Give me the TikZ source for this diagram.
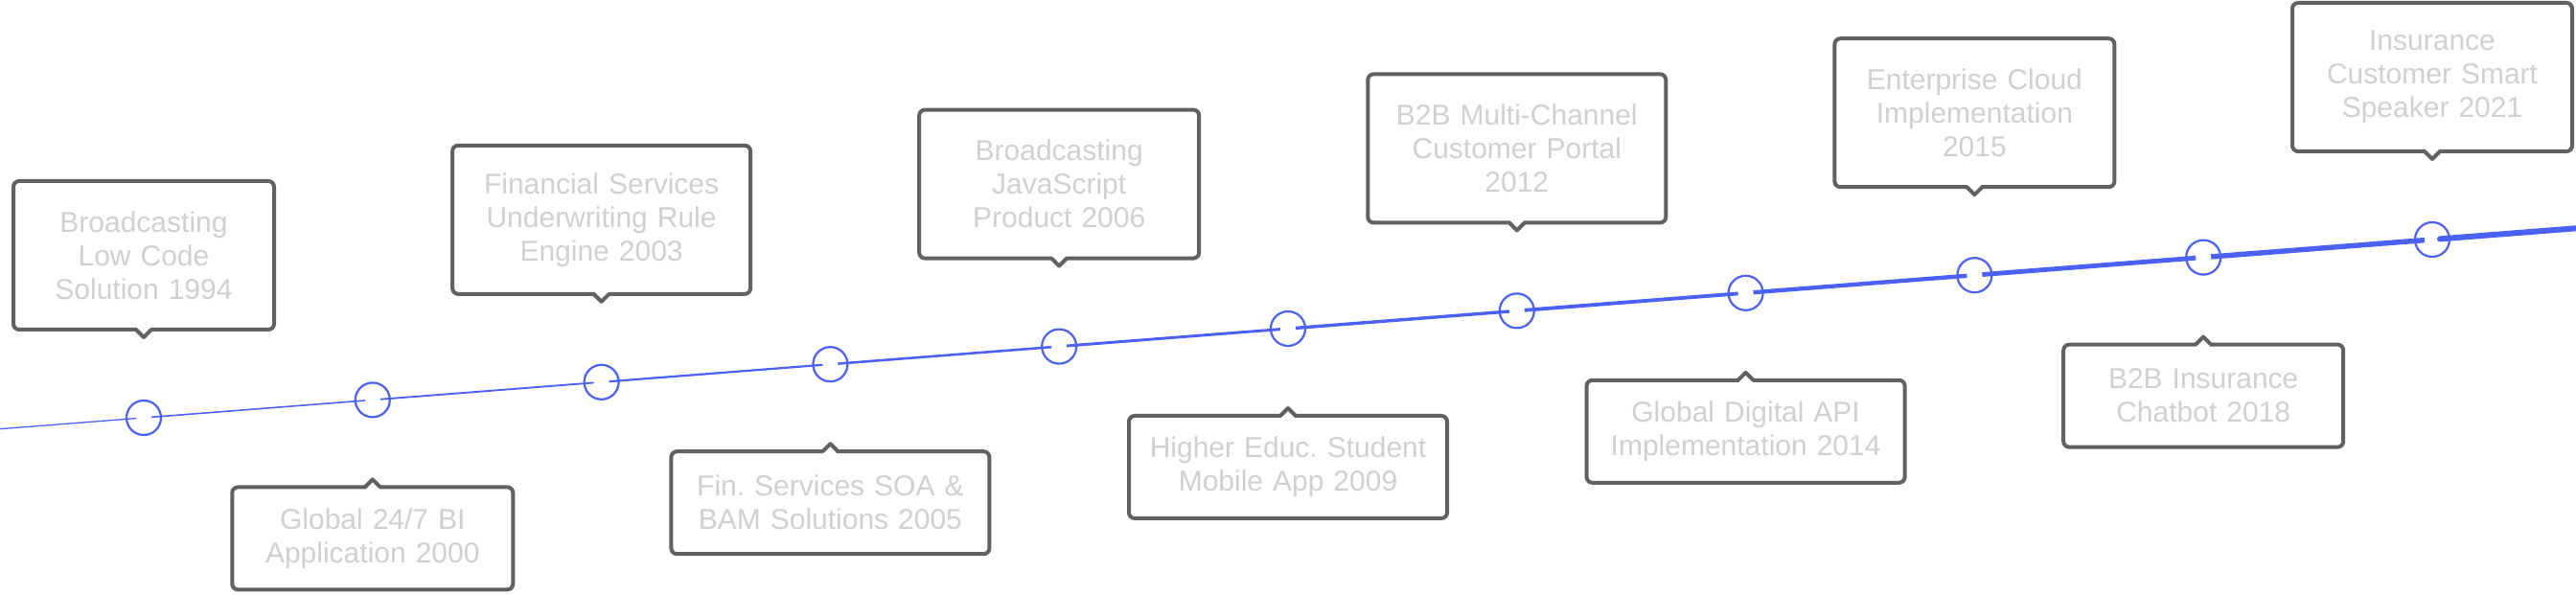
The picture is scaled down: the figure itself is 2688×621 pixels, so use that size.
\documentclass[tikz,border=0pt]{standalone}
\usepackage{fontspec}
\setmainfont{Liberation Sans}
\usetikzlibrary{positioning, calc}

\definecolor{lineblue}{HTML}{4A61F4}
\definecolor{boxgray}{HTML}{616161}
\definecolor{labelgray}{HTML}{D0D0D0}
\frenchspacing

\begin{document}
\begin{tikzpicture}[x=1pt, y=1pt, line join=round,
  dot/.style={circle, draw=lineblue, line width=2.2pt, minimum size=36pt, inner sep=0pt, outer sep=0pt},
  card/.style={draw=boxgray, line width=4pt, rounded corners=6pt, text=labelgray, align=center,
    inner xsep=10pt, inner ysep=0pt, outer sep=0pt, font=\fontsize{30}{35}\selectfont},
  upcard/.style={card, minimum height=155pt, above=74pt of #1},
  downcard/.style={card, minimum height=107pt, below=73pt of #1},
  notch/.style={draw=boxgray, line width=4pt},
  seg/.style={draw=lineblue}]
\useasboundingbox (0,0) rectangle (2688,621);

% timeline dots
\foreach \i in {1,...,11}
  \node[dot] (d\i) at ({150+238.8*(\i-1)},{185+18.6*(\i-1)}) {};

% cards above / below the line
\node[upcard=d1, text width=252pt] (b1) {Broadcasting\\Low Code\\Solution 1994};
\node[downcard=d2, text width=273pt] (b2) {Global 24/7 BI\\Application 2000};
\node[upcard=d3, text width=291pt] (b3) {Financial Services\\Underwriting Rule\\Engine 2003};
\node[downcard=d4, text width=312pt] (b4) {Fin. Services SOA \&\\BAM Solutions 2005};
\node[upcard=d5, text width=272pt] (b5) {Broadcasting\\JavaScript\\Product 2006};
\node[downcard=d6, text width=312pt] (b6) {Higher Educ. Student\\Mobile App 2009};
\node[upcard=d7, text width=291pt] (b7) {B2B Multi-Channel\\Customer Portal\\2012};
\node[downcard=d8, text width=312pt] (b8) {Global Digital API\\Implementation 2014};
\node[upcard=d9, text width=272pt] (b9) {Enterprise Cloud\\Implementation\\2015};
\node[downcard=d10, text width=272pt] (b10) {B2B Insurance\\Chatbot 2018};
\node[upcard=d11, text width=272pt] (b11) {Insurance\\Customer Smart\\Speaker 2021};

% pointers
\foreach \b in {b1,b3,b5,b7,b9,b11} {
  \fill[white] ([xshift=-7pt,yshift=-2.5pt]\b.south) rectangle ([xshift=7pt,yshift=2.5pt]\b.south);
  \draw[notch] ([xshift=-8pt]\b.south) -- ([yshift=-8pt]\b.south) -- ([xshift=8pt]\b.south);
}
\foreach \b in {b2,b4,b6,b8,b10} {
  \fill[white] ([xshift=-7pt,yshift=-2.5pt]\b.north) rectangle ([xshift=7pt,yshift=2.5pt]\b.north);
  \draw[notch] ([xshift=-8pt]\b.north) -- ([yshift=8pt]\b.north) -- ([xshift=8pt]\b.north);
}

% the line, a little thicker at each step
\coordinate (lstart) at (0,173.3);
\coordinate (lend) at (2688,382.7);
\draw[seg, line width=1.3pt] (lstart) -- ($(d1)!8pt!(lstart)$);
\foreach \i [evaluate=\i as \lw using 1.3+0.25*\i+0.016*\i*\i, evaluate=\i as \j using int(\i+1)] in {1,...,10}
  \draw[seg, line width=\lw pt] ($(d\i)!8pt!(d\j)$) -- ($(d\j)!8pt!(d\i)$);
\draw[seg, line width=6pt, line cap=round] ($(d11)!8pt!(lend)$) -- (lend);
\end{tikzpicture}
\end{document}
